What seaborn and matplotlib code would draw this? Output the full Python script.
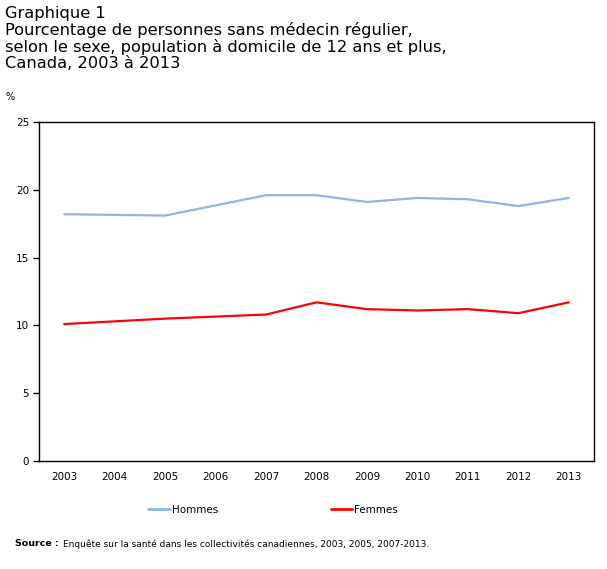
import numpy as np
import pandas as pd
import matplotlib
matplotlib.use("Agg")
import matplotlib.pyplot as plt
import seaborn as sns

# data (2006: no survey, line joins 2005 to 2007)
years = [2003, 2004, 2005, 2006, 2007, 2008, 2009, 2010, 2011, 2012, 2013]
hommes = [18.2, np.nan, 18.1, np.nan, 19.6, 19.6, 19.1, 19.4, 19.3, 18.8, 19.4]
femmes = [10.1, np.nan, 10.5, np.nan, 10.8, 11.7, 11.2, 11.1, 11.2, 10.9, 11.7]
series_names = ["Hommes", "Femmes"]
colors = {"Hommes": "#8db4e2", "Femmes": "#ff0000"}

df = pd.DataFrame({"annee": years, "Hommes": hommes, "Femmes": femmes})
df_long = df.melt(id_vars="annee", var_name="sexe", value_name="pct")

sns.set_style("white")
plt.rcParams["font.family"] = ["DejaVu Sans"]
plt.rcParams["text.color"] = "black"
plt.rcParams["xtick.color"] = "black"
plt.rcParams["ytick.color"] = "black"

fig = plt.figure(figsize=(6.07, 5.69), dpi=100)
ax = fig.add_axes([39 / 607, 1 - 461 / 569, (594 - 39) / 607, (461 - 122) / 569])

sns.lineplot(data=df_long, x="annee", y="pct", hue="sexe", hue_order=series_names,
             palette=colors, linewidth=1.6, ax=ax, legend=False)

ax.set_xlim(2002.5, 2013.5)
ax.set_ylim(0, 25)
ax.set_yticks([0, 5, 10, 15, 20, 25])
ax.set_xticks(years)
ax.set_xticklabels([str(y) for y in years])
ax.set_xticks(np.arange(2002.5, 2014, 1), minor=True)
ax.tick_params(axis="x", which="major", length=0, labelsize=7.5, pad=8)
ax.tick_params(axis="x", which="minor", length=5, width=1, direction="out", color="black")
ax.tick_params(axis="y", length=4, width=1, direction="out", labelsize=7.5, pad=3, color="black", left=True)
ax.set_xlabel("")
ax.set_ylabel("")
for s in ax.spines.values():
    s.set_color("black")
    s.set_linewidth(1)

# titles
fig.text(5 / 607, 1 - 6 / 569, "Graphique 1\nPourcentage de personnes sans médecin régulier,\n"
         "selon le sexe, population à domicile de 12 ans et plus,\nCanada, 2003 à 2013",
         fontsize=11.7, va="top", ha="left", linespacing=1.07)
fig.text(5 / 607, 1 - 97 / 569, "%", fontsize=7, va="center", ha="left")

# legend
handles = [plt.Line2D([], [], color=colors[n], linewidth=2) for n in series_names]
fig.legend(handles, series_names, loc="center", bbox_to_anchor=(273 / 607, 1 - 510 / 569),
           ncol=2, frameon=False, fontsize=7.5, handlelength=2.1, handletextpad=0.15,
           columnspacing=10.8)

# source
fig.text(15 / 607, 1 - 544 / 569, "Source :", fontsize=6.8, fontweight="bold", va="center", ha="left")
fig.text(63 / 607, 1 - 544 / 569, "Enquête sur la santé dans les collectivités canadiennes, 2003, 2005, 2007-2013.",
         fontsize=6.5, va="center", ha="left")

fig.savefig("out.png", dpi=100)
